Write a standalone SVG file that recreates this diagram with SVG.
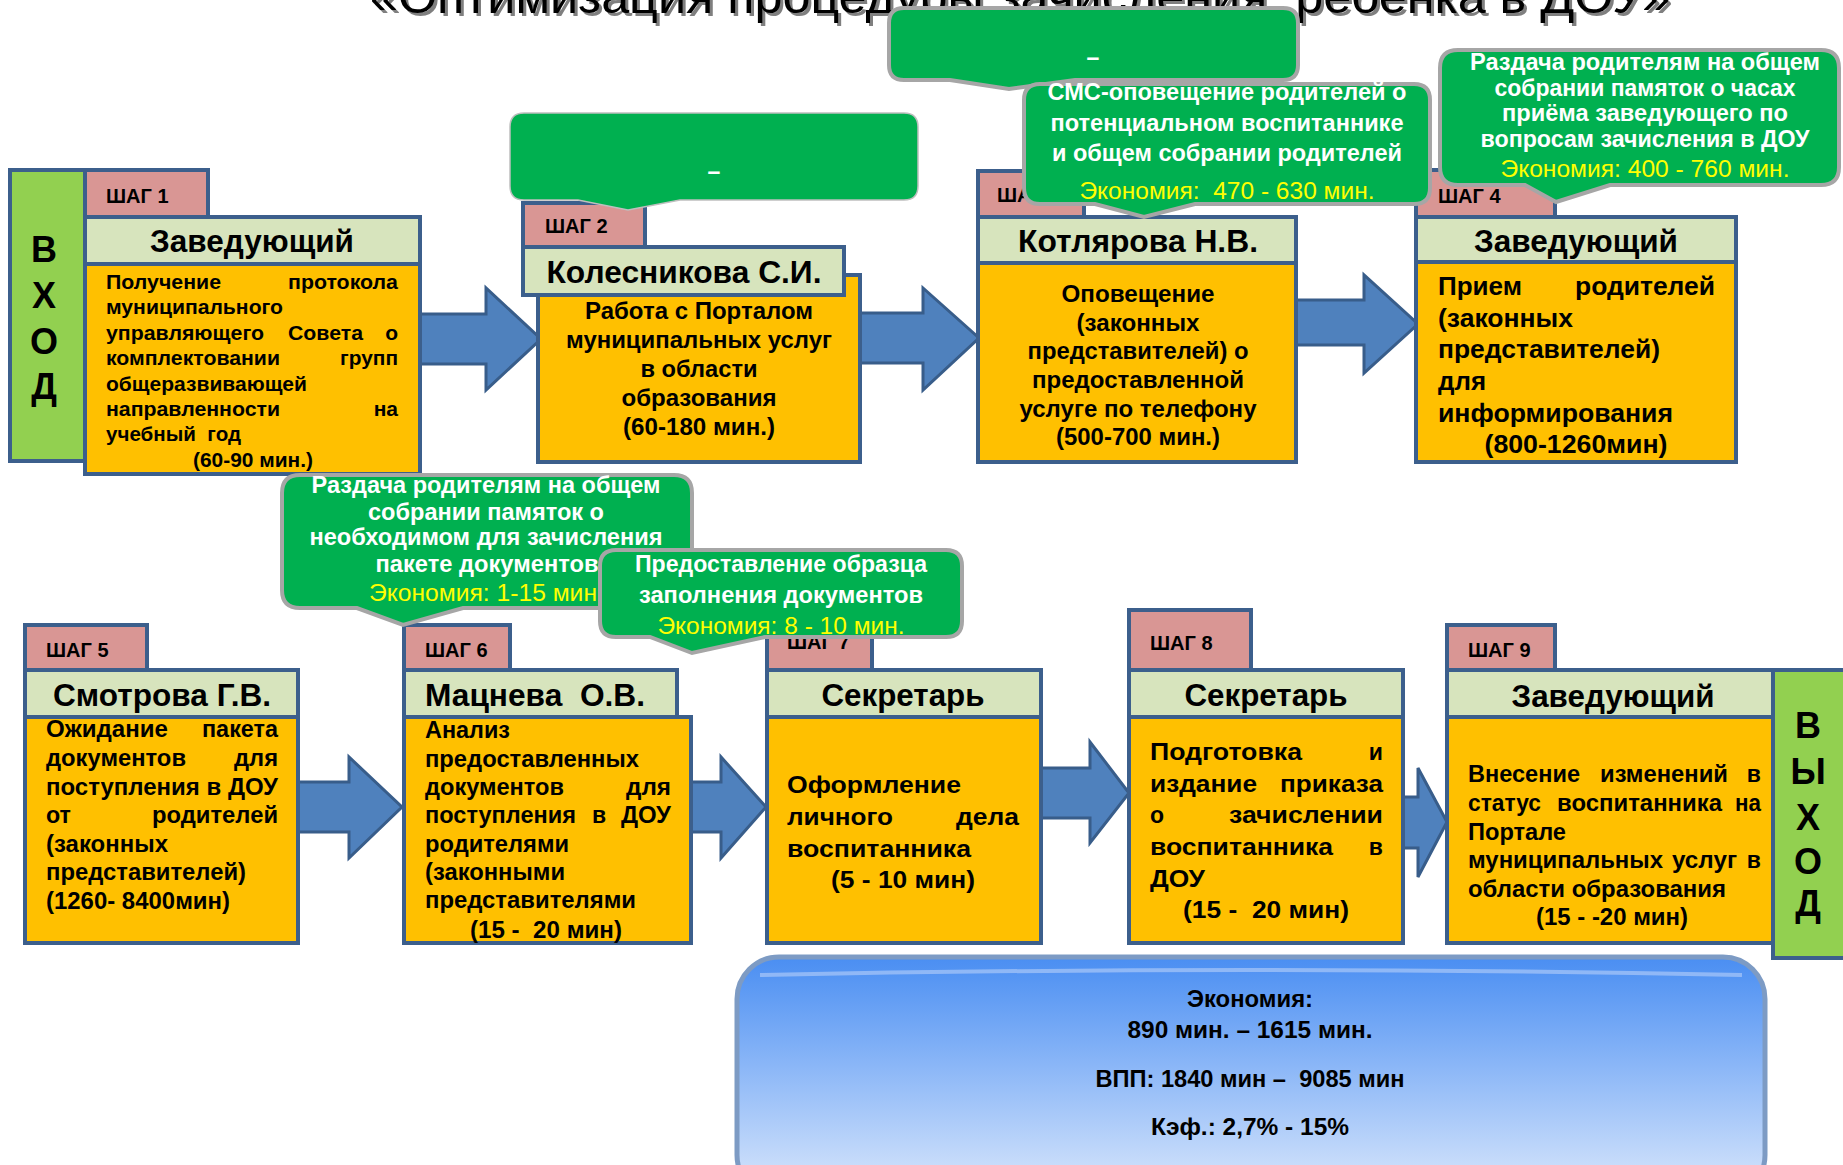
<svg xmlns="http://www.w3.org/2000/svg" width="1843" height="1165" viewBox="0 0 1843 1165">
<style>
text{font-family:"Liberation Sans",Arial,sans-serif;font-weight:bold;fill:#000;white-space:pre}
.box{stroke:#3c5f8c;stroke-width:4}
.tab{fill:#d99694}
.hdr{fill:#d7e4bd}
.body{fill:#ffc000}
.side{fill:#92d050}
.arrow{fill:#4f81bd;stroke:#385d8a;stroke-width:3}
.co{fill:#00b050;stroke:#a6a6a6;stroke-width:4}
.stp{font-size:20px}
.h{font-size:31px}
.b1{font-size:21px}
.b4{font-size:25px}
.bc{font-size:23px}
.side-t{font-size:36px}
.cw{fill:#fff;font-size:23px}
.cy{fill:#ffff00;font-size:23px;font-weight:normal}
.m{text-anchor:middle}
.e{text-anchor:end}
.title{font-weight:normal;font-size:48px}
</style>
<defs>
<linearGradient id="blueg" x1="0" y1="0" x2="0" y2="1">
<stop offset="0" stop-color="#4a8ef2"/>
<stop offset="0.45" stop-color="#8ab6f7"/>
<stop offset="1" stop-color="#dbe8fc"/>
</linearGradient>
</defs>

<g id="title">
<text class="title m" x="1023" y="16" fill="#808080" style="fill:#7f7f7f" textLength="1300" lengthAdjust="spacingAndGlyphs">«Оптимизация процедуры зачисления  ребенка в ДОУ»</text>
<text class="title m" x="1020" y="13" textLength="1300" lengthAdjust="spacingAndGlyphs">«Оптимизация процедуры зачисления  ребенка в ДОУ»</text>
</g>

<g id="connectors">
<polygon class="arrow" points="419,314 486,314 486,288 541,339 486,390 486,364 419,364"/>
<polygon class="arrow" points="858,313 923,313 923,288 979,338 923,390 923,363 858,363"/>
<polygon class="arrow" points="1294,300 1364,300 1364,275 1418,324 1364,373 1364,345 1294,345"/>
<polygon class="arrow" points="296,782 349,782 349,757 402,807 349,858 349,832 296,832"/>
<polygon class="arrow" points="689,782 721,782 721,757 766,807 721,858 721,832 689,832"/>
<polygon class="arrow" points="1039,768 1090,768 1090,742 1129,793 1090,843 1090,818 1039,818"/>
<polygon class="arrow" points="1401,797 1418,797 1418,768 1447,822 1418,877 1418,848 1401,848"/>
</g>

<g id="entry">
<rect class="box side" x="10" y="170" width="75" height="291"/>
<text class="side-t m" x="44" y="262">В</text>
<text class="side-t m" x="44" y="308">Х</text>
<text class="side-t m" x="44" y="354">О</text>
<text class="side-t m" x="44" y="399">Д</text>
</g>

<g id="step1">
<rect class="box body" x="85" y="264" width="335" height="210"/>
<rect class="box hdr" x="85" y="217" width="335" height="47"/>
<rect class="box tab" x="85" y="170" width="123" height="47"/>
<text class="stp" x="106" y="203">ШАГ 1</text>
<text class="h m" x="252" y="252" textLength="204" lengthAdjust="spacingAndGlyphs">Заведующий</text>
<text class="b1" x="106" y="289" textLength="115" lengthAdjust="spacingAndGlyphs">Получение</text>
<text class="b1 e" x="398" y="289" textLength="110" lengthAdjust="spacingAndGlyphs">протокола</text>
<text class="b1" x="106" y="314" textLength="177" lengthAdjust="spacingAndGlyphs">муниципального</text>
<text class="b1" x="106" y="340" textLength="158" lengthAdjust="spacingAndGlyphs">управляющего</text>
<text class="b1" x="288" y="340" textLength="75" lengthAdjust="spacingAndGlyphs">Совета</text>
<text class="b1 e" x="398" y="340">о</text>
<text class="b1" x="106" y="365" textLength="174" lengthAdjust="spacingAndGlyphs">комплектовании</text>
<text class="b1 e" x="398" y="365" textLength="58" lengthAdjust="spacingAndGlyphs">групп</text>
<text class="b1" x="106" y="391" textLength="201" lengthAdjust="spacingAndGlyphs">общеразвивающей</text>
<text class="b1" x="106" y="416" textLength="174" lengthAdjust="spacingAndGlyphs">направленности</text>
<text class="b1 e" x="398" y="416">на</text>
<text class="b1" x="106" y="441" textLength="135" lengthAdjust="spacingAndGlyphs">учебный  год</text>
<text class="b1 m" x="253" y="467" textLength="120" lengthAdjust="spacingAndGlyphs">(60-90 мин.)</text>
</g>

<g id="step2">
<rect class="box body" x="538" y="275" width="322" height="187"/>
<rect class="box hdr" x="523" y="247" width="321" height="48"/>
<rect class="box tab" x="523" y="203" width="122" height="44"/>
<text class="stp" x="545" y="233">ШАГ 2</text>
<text class="h m" x="684" y="283" textLength="275" lengthAdjust="spacingAndGlyphs">Колесникова С.И.</text>
<text class="bc m" x="699" y="319" textLength="228" lengthAdjust="spacingAndGlyphs">Работа с Порталом</text>
<text class="bc m" x="699" y="348" textLength="266" lengthAdjust="spacingAndGlyphs">муниципальных услуг</text>
<text class="bc m" x="699" y="377" textLength="117" lengthAdjust="spacingAndGlyphs">в области</text>
<text class="bc m" x="699" y="406" textLength="155" lengthAdjust="spacingAndGlyphs">образования</text>
<text class="bc m" x="699" y="435" textLength="152" lengthAdjust="spacingAndGlyphs">(60-180 мин.)</text>
</g>

<g id="step3">
<rect class="box body" x="978" y="263" width="318" height="199"/>
<rect class="box hdr" x="978" y="217" width="318" height="46"/>
<rect class="box tab" x="978" y="171" width="106" height="46"/>
<text class="stp" x="997" y="202">ШАГ 3</text>
<text class="h m" x="1138" y="252" textLength="240" lengthAdjust="spacingAndGlyphs">Котлярова Н.В.</text>
<text class="bc m" x="1138" y="302" textLength="153" lengthAdjust="spacingAndGlyphs">Оповещение</text>
<text class="bc m" x="1138" y="331" textLength="123" lengthAdjust="spacingAndGlyphs">(законных</text>
<text class="bc m" x="1138" y="359" textLength="221" lengthAdjust="spacingAndGlyphs">представителей) о</text>
<text class="bc m" x="1138" y="388" textLength="212" lengthAdjust="spacingAndGlyphs">предоставленной</text>
<text class="bc m" x="1138" y="417" textLength="237" lengthAdjust="spacingAndGlyphs">услуге по телефону</text>
<text class="bc m" x="1138" y="445" textLength="164" lengthAdjust="spacingAndGlyphs">(500-700 мин.)</text>
</g>

<g id="step4">
<rect class="box body" x="1416" y="262" width="320" height="200"/>
<rect class="box hdr" x="1416" y="217" width="320" height="45"/>
<rect class="box tab" x="1416" y="170" width="139" height="47"/>
<text class="stp" x="1438" y="203">ШАГ 4</text>
<text class="h m" x="1576" y="252" textLength="204" lengthAdjust="spacingAndGlyphs">Заведующий</text>
<text class="b4" x="1438" y="295" textLength="84" lengthAdjust="spacingAndGlyphs">Прием</text>
<text class="b4 e" x="1715" y="295" textLength="140" lengthAdjust="spacingAndGlyphs">родителей</text>
<text class="b4" x="1438" y="327" textLength="135" lengthAdjust="spacingAndGlyphs">(законных</text>
<text class="b4" x="1438" y="358" textLength="222" lengthAdjust="spacingAndGlyphs">представителей)</text>
<text class="b4" x="1438" y="390" textLength="48" lengthAdjust="spacingAndGlyphs">для</text>
<text class="b4" x="1438" y="422" textLength="235" lengthAdjust="spacingAndGlyphs">информирования</text>
<text class="b4 m" x="1576" y="453" textLength="183" lengthAdjust="spacingAndGlyphs">(800-1260мин)</text>
</g>

<g id="step5">
<rect class="box body" x="25" y="717" width="273" height="226"/>
<rect class="box hdr" x="25" y="670" width="273" height="47"/>
<rect class="box tab" x="25" y="625" width="122" height="45"/>
<text class="stp" x="46" y="657">ШАГ 5</text>
<text class="h m" x="162" y="706" textLength="218" lengthAdjust="spacingAndGlyphs">Смотрова Г.В.</text>
<text class="bc" x="46" y="737" textLength="122" lengthAdjust="spacingAndGlyphs">Ожидание</text>
<text class="bc e" x="278" y="737" textLength="76" lengthAdjust="spacingAndGlyphs">пакета</text>
<text class="bc" x="46" y="766" textLength="140" lengthAdjust="spacingAndGlyphs">документов</text>
<text class="bc e" x="278" y="766" textLength="44" lengthAdjust="spacingAndGlyphs">для</text>
<text class="bc" x="46" y="795" textLength="232" lengthAdjust="spacingAndGlyphs">поступления в ДОУ</text>
<text class="bc" x="46" y="823" textLength="25" lengthAdjust="spacingAndGlyphs">от</text>
<text class="bc e" x="278" y="823" textLength="126" lengthAdjust="spacingAndGlyphs">родителей</text>
<text class="bc" x="46" y="852" textLength="122" lengthAdjust="spacingAndGlyphs">(законных</text>
<text class="bc" x="46" y="880" textLength="200" lengthAdjust="spacingAndGlyphs">представителей)</text>
<text class="bc" x="46" y="909" textLength="184" lengthAdjust="spacingAndGlyphs">(1260- 8400мин)</text>
</g>

<g id="step6">
<rect class="box body" x="404" y="717" width="287" height="226"/>
<rect class="box hdr" x="404" y="670" width="273" height="47"/>
<rect class="box tab" x="404" y="625" width="106" height="45"/>
<text class="stp" x="425" y="657">ШАГ 6</text>
<text class="h" x="425" y="706" textLength="220" lengthAdjust="spacingAndGlyphs">Мацнева  О.В.</text>
<text class="bc" x="425" y="738" textLength="85" lengthAdjust="spacingAndGlyphs">Анализ</text>
<text class="bc" x="425" y="767" textLength="214" lengthAdjust="spacingAndGlyphs">предоставленных</text>
<text class="bc" x="425" y="795" textLength="139" lengthAdjust="spacingAndGlyphs">документов</text>
<text class="bc e" x="671" y="795" textLength="45" lengthAdjust="spacingAndGlyphs">для</text>
<text class="bc" x="425" y="823" textLength="151" lengthAdjust="spacingAndGlyphs">поступления</text>
<text class="bc" x="592" y="823">в</text>
<text class="bc e" x="671" y="823" textLength="50" lengthAdjust="spacingAndGlyphs">ДОУ</text>
<text class="bc" x="425" y="852" textLength="144" lengthAdjust="spacingAndGlyphs">родителями</text>
<text class="bc" x="425" y="880" textLength="140" lengthAdjust="spacingAndGlyphs">(законными</text>
<text class="bc" x="425" y="908" textLength="211" lengthAdjust="spacingAndGlyphs">представителями</text>
<text class="bc m" x="546" y="938" textLength="152" lengthAdjust="spacingAndGlyphs">(15 -  20 мин)</text>
</g>

<g id="step7">
<rect class="box body" x="767" y="717" width="274" height="226"/>
<rect class="box hdr" x="767" y="670" width="274" height="47"/>
<rect class="box tab" x="767" y="610" width="105" height="60"/>
<text class="stp" x="787" y="649">ШАГ 7</text>
<text class="h m" x="903" y="706" textLength="163" lengthAdjust="spacingAndGlyphs">Секретарь</text>
<text class="bc" x="787" y="793" textLength="174" lengthAdjust="spacingAndGlyphs">Оформление</text>
<text class="bc" x="787" y="825" textLength="106" lengthAdjust="spacingAndGlyphs">личного</text>
<text class="bc e" x="1019" y="825" textLength="63" lengthAdjust="spacingAndGlyphs">дела</text>
<text class="bc" x="787" y="857" textLength="184" lengthAdjust="spacingAndGlyphs">воспитанника</text>
<text class="bc m" x="903" y="888" textLength="144" lengthAdjust="spacingAndGlyphs">(5 - 10 мин)</text>
</g>

<g id="step8">
<rect class="box body" x="1129" y="717" width="274" height="226"/>
<rect class="box hdr" x="1129" y="670" width="274" height="47"/>
<rect class="box tab" x="1129" y="610" width="122" height="60"/>
<text class="stp" x="1150" y="650">ШАГ 8</text>
<text class="h m" x="1266" y="706" textLength="163" lengthAdjust="spacingAndGlyphs">Секретарь</text>
<text class="bc" x="1150" y="760" textLength="152" lengthAdjust="spacingAndGlyphs">Подготовка</text>
<text class="bc e" x="1383" y="760">и</text>
<text class="bc" x="1150" y="792" textLength="107" lengthAdjust="spacingAndGlyphs">издание</text>
<text class="bc e" x="1383" y="792" textLength="103" lengthAdjust="spacingAndGlyphs">приказа</text>
<text class="bc" x="1150" y="823">о</text>
<text class="bc e" x="1383" y="823" textLength="154" lengthAdjust="spacingAndGlyphs">зачислении</text>
<text class="bc" x="1150" y="855" textLength="183" lengthAdjust="spacingAndGlyphs">воспитанника</text>
<text class="bc e" x="1383" y="855">в</text>
<text class="bc" x="1150" y="887" textLength="55" lengthAdjust="spacingAndGlyphs">ДОУ</text>
<text class="bc m" x="1266" y="918" textLength="166" lengthAdjust="spacingAndGlyphs">(15 -  20 мин)</text>
</g>

<g id="step9">
<rect class="box body" x="1447" y="717" width="326" height="226"/>
<rect class="box hdr" x="1447" y="670" width="326" height="47"/>
<rect class="box tab" x="1447" y="625" width="108" height="45"/>
<text class="stp" x="1468" y="657">ШАГ 9</text>
<text class="h m" x="1613" y="707" textLength="203" lengthAdjust="spacingAndGlyphs">Заведующий</text>
<text class="bc" x="1468" y="782" textLength="112" lengthAdjust="spacingAndGlyphs">Внесение</text>
<text class="bc" x="1600" y="782" textLength="128" lengthAdjust="spacingAndGlyphs">изменений</text>
<text class="bc e" x="1761" y="782">в</text>
<text class="bc" x="1468" y="811" textLength="73" lengthAdjust="spacingAndGlyphs">статус</text>
<text class="bc" x="1557" y="811" textLength="165" lengthAdjust="spacingAndGlyphs">воспитанника</text>
<text class="bc e" x="1761" y="811" textLength="26" lengthAdjust="spacingAndGlyphs">на</text>
<text class="bc" x="1468" y="840" textLength="98" lengthAdjust="spacingAndGlyphs">Портале</text>
<text class="bc" x="1468" y="868" textLength="195" lengthAdjust="spacingAndGlyphs">муниципальных</text>
<text class="bc" x="1672" y="868" textLength="65" lengthAdjust="spacingAndGlyphs">услуг</text>
<text class="bc e" x="1761" y="868">в</text>
<text class="bc" x="1468" y="897" textLength="258" lengthAdjust="spacingAndGlyphs">области образования</text>
<text class="bc m" x="1612" y="925" textLength="152" lengthAdjust="spacingAndGlyphs">(15 - -20 мин)</text>
</g>

<g id="exit">
<rect class="box side" x="1773" y="670" width="80" height="288"/>
<text class="side-t m" x="1808" y="738">В</text>
<text class="side-t m" x="1808" y="784">Ы</text>
<text class="side-t m" x="1808" y="830">Х</text>
<text class="side-t m" x="1808" y="874">О</text>
<text class="side-t m" x="1808" y="916">Д</text>
</g>

<g id="callout-step2">
<path d="M524,113 H904 Q918,113 918,127 V186 Q918,200 904,200 H680 L628,210 L578,200 H524 Q510,200 510,186 V127 Q510,113 524,113 Z" fill="#00b050" stroke="#bfbfbf" stroke-width="1.5"/>
<text class="cw m" x="714" y="179">–</text>
</g>

<g id="callout-top">
<path class="co" d="M904,8 H1283 Q1298,8 1298,23 V65 Q1298,80 1283,80 H1075 L1009,89 L950,80 H904 Q889,80 889,65 V23 Q889,8 904,8 Z"/>
<text class="cw m" x="1093" y="65">–</text>
</g>

<g id="callout-sms">
<path class="co" d="M1040,84 H1414 Q1430,84 1430,100 V188 Q1430,204 1414,204 H1195 L1144,217 L1095,204 H1040 Q1024,204 1024,188 V100 Q1024,84 1040,84 Z"/>
<text class="cw m" x="1227" y="100" textLength="359" lengthAdjust="spacingAndGlyphs">СМС-оповещение родителей о</text>
<text class="cw m" x="1227" y="131" textLength="353" lengthAdjust="spacingAndGlyphs">потенциальном воспитаннике</text>
<text class="cw m" x="1227" y="161" textLength="350" lengthAdjust="spacingAndGlyphs">и общем собрании родителей</text>
<text class="cy m" x="1227" y="199" textLength="295" lengthAdjust="spacingAndGlyphs">Экономия:  470 - 630 мин.</text>
</g>

<g id="callout-hours">
<path class="co" d="M1458,50 H1821 Q1839,50 1839,68 V167 Q1839,185 1821,185 H1610 L1556,202 L1525,185 H1458 Q1440,185 1440,167 V68 Q1440,50 1458,50 Z"/>
<text class="cw m" x="1645" y="70" textLength="350" lengthAdjust="spacingAndGlyphs">Раздача родителям на общем</text>
<text class="cw m" x="1645" y="96" textLength="301" lengthAdjust="spacingAndGlyphs">собрании памяток о часах</text>
<text class="cw m" x="1645" y="121" textLength="286" lengthAdjust="spacingAndGlyphs">приёма заведующего по</text>
<text class="cw m" x="1645" y="147" textLength="329" lengthAdjust="spacingAndGlyphs">вопросам зачисления в ДОУ</text>
<text class="cy m" x="1645" y="177" textLength="289" lengthAdjust="spacingAndGlyphs">Экономия: 400 - 760 мин.</text>
</g>

<g id="callout-docs">
<path class="co" d="M300,475 H674 Q692,475 692,493 V590 Q692,608 674,608 H463 L403,625 L357,608 H300 Q282,608 282,590 V493 Q282,475 300,475 Z"/>
<text class="cw m" x="486" y="493" textLength="349" lengthAdjust="spacingAndGlyphs">Раздача родителям на общем</text>
<text class="cw m" x="486" y="520" textLength="236" lengthAdjust="spacingAndGlyphs">собрании памяток о</text>
<text class="cw m" x="486" y="545" textLength="353" lengthAdjust="spacingAndGlyphs">необходимом для зачисления</text>
<text class="cw m" x="487" y="572" textLength="223" lengthAdjust="spacingAndGlyphs">пакете документов</text>
<text class="cy" x="369" y="601" textLength="228" lengthAdjust="spacingAndGlyphs">Экономия: 1-15 мин</text>
</g>

<g id="callout-sample">
<path class="co" d="M616,550 H946 Q962,550 962,566 V621 Q962,637 946,637 H765 L692,653 L650,637 H616 Q600,637 600,621 V566 Q600,550 616,550 Z"/>
<text class="cw m" x="781" y="572" textLength="292" lengthAdjust="spacingAndGlyphs">Предоставление образца</text>
<text class="cw m" x="781" y="603" textLength="284" lengthAdjust="spacingAndGlyphs">заполнения документов</text>
<text class="cy m" x="781" y="634" textLength="247" lengthAdjust="spacingAndGlyphs">Экономия: 8 - 10 мин.</text>
</g>

<g id="summary">
<rect x="737" y="957" width="1028" height="240" rx="42" fill="url(#blueg)" stroke="#7d9bc4" stroke-width="5"/>
<path d="M760,975 Q1250,965 1742,975" fill="none" stroke="#a9c8f8" stroke-width="4" opacity="0.7"/>
<text class="bc m" x="1250" y="1007" textLength="126" lengthAdjust="spacingAndGlyphs">Экономия:</text>
<text class="bc m" x="1250" y="1038" textLength="245" lengthAdjust="spacingAndGlyphs">890 мин. – 1615 мин.</text>
<text class="bc m" x="1250" y="1087" textLength="309" lengthAdjust="spacingAndGlyphs">ВПП: 1840 мин –  9085 мин</text>
<text class="bc m" x="1250" y="1135" textLength="198" lengthAdjust="spacingAndGlyphs">Кэф.: 2,7% - 15%</text>
</g>
</svg>
